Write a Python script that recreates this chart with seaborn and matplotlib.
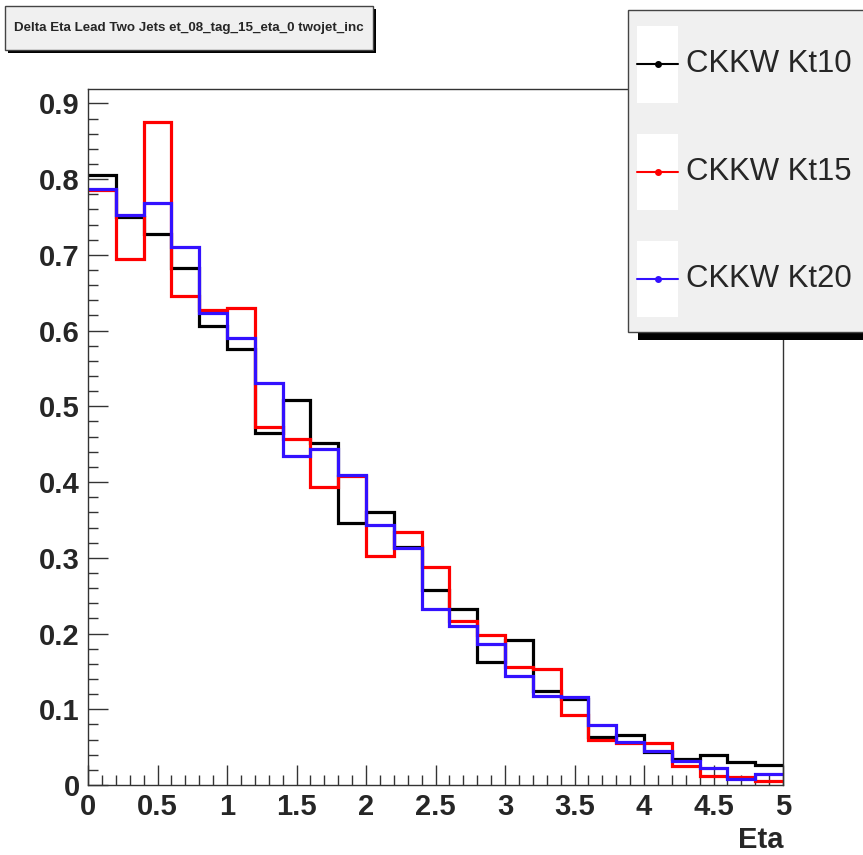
import numpy as np
import pandas as pd
import seaborn as sns
import matplotlib.pyplot as plt
from matplotlib.patches import Rectangle
from matplotlib.lines import Line2D
from matplotlib.ticker import MultipleLocator, FuncFormatter

# dati: 25 bin da 0.2 fra 0 e 5
bin_edges = [round(0.2 * i, 1) for i in range(26)]
samples = ['CKKW Kt10', 'CKKW Kt15', 'CKKW Kt20']
kt10 = [0.806, 0.750, 0.727, 0.683, 0.606, 0.576, 0.465, 0.508, 0.451, 0.346,
        0.360, 0.314, 0.257, 0.233, 0.163, 0.191, 0.124, 0.114, 0.063, 0.066,
        0.043, 0.034, 0.040, 0.030, 0.026]
kt15 = [0.786, 0.694, 0.875, 0.646, 0.627, 0.630, 0.473, 0.457, 0.394, 0.408,
        0.303, 0.334, 0.288, 0.216, 0.198, 0.156, 0.153, 0.093, 0.060, 0.055,
        0.055, 0.025, 0.012, 0.011, 0.005]
kt20 = [0.787, 0.752, 0.769, 0.711, 0.623, 0.590, 0.531, 0.434, 0.443, 0.409,
        0.343, 0.313, 0.232, 0.210, 0.186, 0.144, 0.117, 0.116, 0.079, 0.057,
        0.045, 0.032, 0.022, 0.008, 0.015]
colors = ['black', '#ff0000', '#3311ff']

centers = [(a + b) / 2 for a, b in zip(bin_edges[:-1], bin_edges[1:])]
df = pd.concat([pd.DataFrame({'eta': centers, 'weight': v, 'sample': s})
                for s, v in zip(samples, [kt10, kt15, kt20])])

W, H = 863, 855
sns.set_theme(style='white')
plt.rcParams['font.family'] = ['Liberation Sans', 'DejaVu Sans']
fig = plt.figure(figsize=(W / 100, H / 100), dpi=100)
ax = fig.add_axes([88 / W, 1 - 785 / H, (783 - 88) / W, (785 - 89) / H])

for s, c in zip(samples, colors):
    sns.histplot(data=df[df['sample'] == s], x='eta', weights='weight',
                 bins=bin_edges, element='step', fill=False, color=c,
                 linewidth=2.3, solid_joinstyle='miter', ax=ax)

ax.set_xlim(0, 5)
ax.set_ylim(0, 0.919)
ax.set_ylabel('')
ax.set_xlabel('Eta', fontsize=21, fontweight='bold', loc='right', labelpad=3)

# assi stile ROOT
for sp in ax.spines.values():
    sp.set_color('#333333')
    sp.set_linewidth(1.0)
ax.xaxis.set_major_locator(MultipleLocator(0.5))
ax.xaxis.set_minor_locator(MultipleLocator(0.1))
ax.yaxis.set_major_locator(MultipleLocator(0.1))
ax.yaxis.set_minor_locator(MultipleLocator(0.02))
fmt = FuncFormatter(lambda v, p: f'{v:g}')
ax.xaxis.set_major_formatter(fmt)
ax.yaxis.set_major_formatter(fmt)
ax.tick_params(which='both', direction='in', color='#333333', width=1.0,
               bottom=True, left=True, top=False, right=False)
ax.tick_params(which='major', length=14.5, labelsize=21, pad=6)
ax.tick_params(which='minor', length=7.5)
for lab in ax.get_xticklabels() + ax.get_yticklabels():
    lab.set_fontweight('bold')


def fx(px):
    return px / W


def fy(py):
    return 1 - py / H


# riquadro del titolo con ombra
fig.patches.append(Rectangle((fx(8), fy(53)), fx(368), 44 / H, transform=fig.transFigure,
                             facecolor='black', edgecolor='none', zorder=1))
fig.patches.append(Rectangle((fx(5), fy(50)), fx(368), 44 / H, transform=fig.transFigure,
                             facecolor='#f0f0f0', edgecolor='#444444', linewidth=1, zorder=2))
fig.text(fx(189), fy(28), 'Delta Eta Lead Two Jets et_08_tag_15_eta_0 twojet_inc',
         ha='center', va='center', fontsize=9.6, fontweight='bold', zorder=3)

# legenda
fig.patches.append(Rectangle((fx(638), fy(340)), fx(230), 30 / H, transform=fig.transFigure,
                             facecolor='black', edgecolor='none', zorder=1))
fig.patches.append(Rectangle((fx(628), fy(332)), fx(240), 322 / H, transform=fig.transFigure,
                             facecolor='#f0f0f0', edgecolor='#444444', linewidth=1, zorder=2))
for s, c, (y0, y1) in zip(samples, colors, [(26, 103), (134, 210), (241, 317)]):
    fig.patches.append(Rectangle((fx(637), fy(y1)), fx(41), (y1 - y0) / H,
                                 transform=fig.transFigure, facecolor='white',
                                 edgecolor='none', zorder=3))
    ym = (y0 + y1) / 2
    fig.lines.append(Line2D([fx(637), fx(678)], [fy(ym), fy(ym)], transform=fig.transFigure,
                            color=c, linewidth=1.5, zorder=4))
    fig.lines.append(Line2D([fx(657.5)], [fy(ym)], transform=fig.transFigure,
                            color=c, marker='o', markersize=4, linestyle='', zorder=5))
    fig.text(fx(686), fy(ym), s, ha='left', va='center', fontsize=22.4, zorder=5)

plt.savefig('out.png', dpi=100)
